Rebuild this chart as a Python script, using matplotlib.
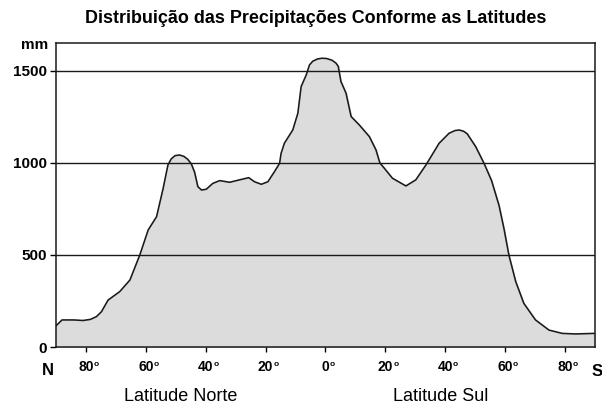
import matplotlib
matplotlib.use("Agg")
import matplotlib.pyplot as plt

plt.rcParams['font.family'] = ['Liberation Sans', 'DejaVu Sans']

# latitude (negative = north, positive = south) and precipitation in mm
latitudes = [-90, -88, -84, -81, -78.5, -76.5, -74.8, -72.6, -68.7, -65.3,
             -62, -59.2, -56.4, -54.2, -52.6, -51.5, -50.2, -48.7, -47.3, -46.0,
             -44.8, -43.7, -42.6, -41.4, -39.8, -37.6, -35.3, -32, -28.7, -25.6,
             -23.7, -21.4, -19.2, -17, -15.3, -14.8, -13.7, -10.9, -9.2, -8.1,
             -6.4, -5.3, -4.2, -2.6, -1.0, 0.5, 2.2, 3.5, 4.3, 5.2,
             6.9, 8.6, 11.3, 14.7, 16.9, 18.2, 19.5, 22.4, 26.9, 30.2,
             33.6, 38, 41.3, 43.3, 44.7, 46.2, 47.4, 50.2, 53, 55.5,
             58, 59.7, 61.3, 63.6, 66.3, 70.2, 74.7, 79.1, 83.6, 90]
precip = [115, 147, 147, 144, 150, 165, 192, 255, 301, 364,
          500, 636, 708, 862, 989, 1022, 1040, 1043, 1036, 1020,
          995, 950, 871, 853, 857, 889, 904, 895, 908, 920,
          898, 884, 898, 953, 998, 1052, 1107, 1179, 1270, 1415,
          1478, 1533, 1553, 1565, 1569, 1567, 1558, 1543, 1525, 1442,
          1379, 1252, 1207, 1143, 1071, 1000, 975, 917, 875, 908,
          989, 1107, 1161, 1176, 1179, 1172, 1158, 1089, 998, 905,
          770, 640, 500, 355, 237, 147, 92, 74, 71, 74]

tick_pos = [-80, -60, -40, -20, 0, 20, 40, 60, 80]
tick_labels = ['80', '60', '40', '20', '0', '20', '40', '60', '80']
y_ticks = [0, 500, 1000, 1500]
grid_levels = [500, 1000, 1500]

fig = plt.figure(figsize=(6.02, 4.05), dpi=100)
ax = fig.add_axes([0.093, 0.1432, 0.895, 0.7508])

ax.fill_between(latitudes, precip, 0, color='#dcdcdc', zorder=1)
ax.plot(latitudes, precip, color='#1a1a1a', lw=1.15, zorder=3)
for lvl in grid_levels:
    ax.axhline(lvl, color='#1a1a1a', lw=1.0, zorder=2)

ax.set_xlim(-90, 90)
ax.set_ylim(0, 1652)

ax.set_xticks(tick_pos)
ax.set_xticklabels(tick_labels, fontsize=10, fontweight='bold')
ax.set_yticks(y_ticks)
ax.set_yticklabels([str(v) for v in y_ticks], fontsize=11, fontweight='bold')
ax.tick_params(axis='x', direction='out', length=3.6, width=1, pad=5.5)
ax.tick_params(axis='y', direction='out', length=4.3, width=1, pad=2)

# small raised "o" after each degree label
for pos, lab in zip(tick_pos, tick_labels):
    dx = len(lab) * 0.556 * 10 / 2 + 0.2
    ax.annotate('o', xy=(pos, 0), xycoords=('data', 'axes fraction'),
                xytext=(dx, -10.3), textcoords='offset points',
                fontsize=6, fontweight='bold', va='top', ha='left')

for s in ax.spines.values():
    s.set_linewidth(1.1)
    s.set_color('#1a1a1a')

fig.text(0.525, 0.955, 'Distribuição das Precipitações Conforme as Latitudes',
         ha='center', va='center', fontsize=12.9, fontweight='bold')
fig.text(0.0797, 0.889, 'mm', ha='right', va='center', fontsize=11, fontweight='bold')
fig.text(0.0797, 0.0864, 'N', ha='center', va='center', fontsize=12, fontweight='bold')
fig.text(0.992, 0.082, 'S', ha='center', va='center', fontsize=12, fontweight='bold')
fig.text(0.3007, 0.0222, 'Latitude Norte', ha='center', va='center', fontsize=13)
fig.text(0.7326, 0.0222, 'Latitude Sul', ha='center', va='center', fontsize=13)

fig.savefig('out.png', dpi=100)
